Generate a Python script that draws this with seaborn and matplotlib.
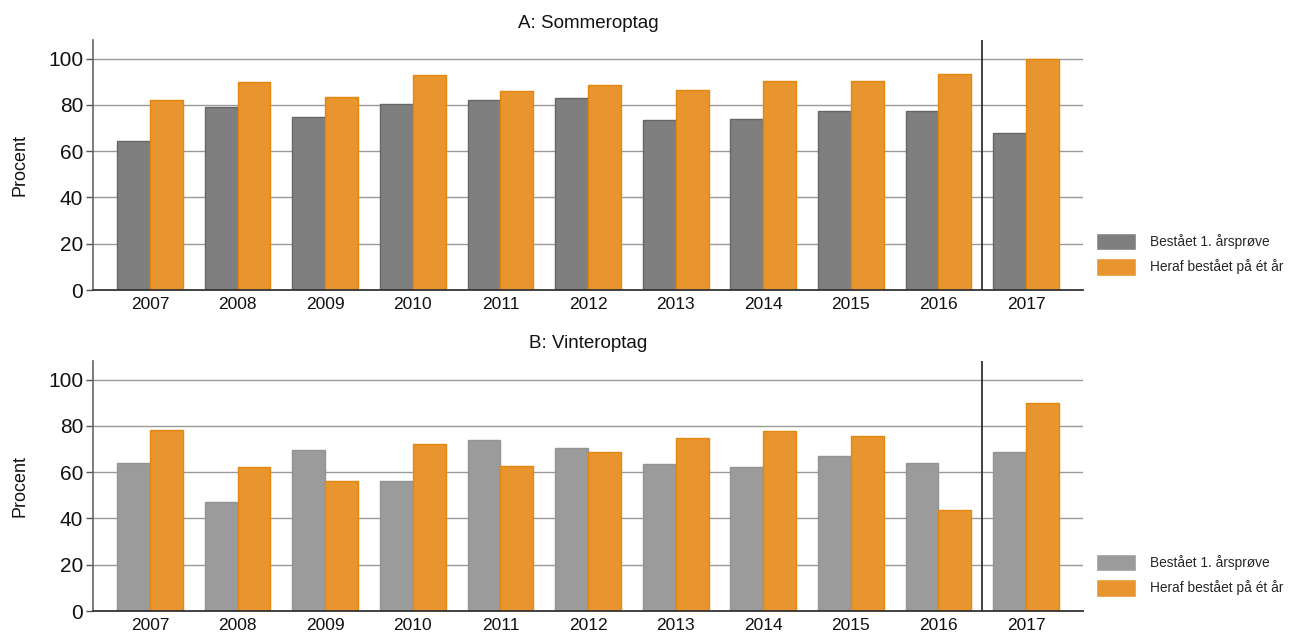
import matplotlib
matplotlib.use("Agg")
import matplotlib.pyplot as plt
import seaborn as sns
import pandas as pd

# Data
years = ["2007", "2008", "2009", "2010", "2011", "2012", "2013", "2014", "2015", "2016", "2017"]
series_names = ["Bestået 1. årsprøve", "Heraf bestået på ét år"]

summer_passed = [64.4, 78.9, 74.9, 80.2, 81.9, 82.9, 73.3, 73.7, 77.2, 77.3, 67.7]
summer_one_year = [82.3, 89.7, 83.2, 92.8, 85.9, 88.5, 86.6, 90.5, 90.1, 93.2, 100.0]

winter_passed = [63.9, 47.3, 69.7, 56.2, 73.9, 70.4, 63.5, 62.4, 67.1, 63.9, 68.8]
winter_one_year = [78.2, 62.2, 56.2, 72.1, 62.6, 68.8, 74.7, 77.7, 75.6, 43.7, 89.8]

panel_titles = ["A: Sommeroptag", "B: Vinteroptag"]
y_ticks = [0, 20, 40, 60, 80, 100]


def long_frame(first, second):
    return pd.DataFrame({
        "year": years * 2,
        "series": [series_names[0]] * len(years) + [series_names[1]] * len(years),
        "value": list(first) + list(second),
    })


sns.set_theme(style="white")
plt.rcParams["font.family"] = ["Liberation Sans", "DejaVu Sans"]

fig = plt.figure(figsize=(12.89, 6.32), dpi=100)
ax_top = fig.add_axes([0.0722, 0.5411, 0.768, 0.3956])
ax_bot = fig.add_axes([0.0722, 0.0332, 0.768, 0.3956])

orange = "#E8952F"
orange_edge = "#E4870E"
panels = [
    (ax_top, summer_passed, summer_one_year, "#7F7F7F", "#666666"),
    (ax_bot, winter_passed, winter_one_year, "#9B9B9B", "#939393"),
]

for i, (ax, first, second, gray, gray_edge) in enumerate(panels):
    df = long_frame(first, second)
    ax.set_axisbelow(True)
    for y in y_ticks[1:]:
        ax.axhline(y, color="#9A9A9A", lw=1.0, zorder=0)
    sns.barplot(data=df, x="year", y="value", hue="series",
                palette=[gray, orange], width=0.75, saturation=1,
                ax=ax, zorder=2)
    edges = [gray_edge, orange_edge]
    for k, cont in enumerate(ax.containers):
        for bar in cont:
            bar.set_edgecolor(edges[k])
            bar.set_linewidth(1.0)
    ax.axvline(9.5, color="#333333", lw=1.3, zorder=3)
    ax.set_xlim(-0.65, 10.65)
    ax.set_ylim(0, 108)
    ax.set_yticks(y_ticks)
    ax.tick_params(axis="y", labelsize=15, length=5, width=1, color="#555555",
                   pad=2, left=True, labelcolor="#111111")
    ax.tick_params(axis="x", labelsize=12.5, length=0, pad=5, labelcolor="#111111")
    ax.set_xlabel("")
    ax.set_ylabel("Procent", fontsize=13, labelpad=14, color="#111111")
    ax.set_title(panel_titles[i], fontsize=13.5, pad=9, color="#111111")
    for side in ["top", "right"]:
        ax.spines[side].set_visible(False)
    ax.spines["left"].set_color("#666666")
    ax.spines["left"].set_linewidth(1.2)
    ax.spines["bottom"].set_color("#333333")
    ax.spines["bottom"].set_linewidth(1.3)
    ax.legend(loc="lower left", bbox_to_anchor=(1.013, 0.058), frameon=False,
              fontsize=9.9, handlelength=2.95, handleheight=1.55,
              handletextpad=0.95, labelspacing=0.6, borderpad=0,
              borderaxespad=0, title=None)

fig.savefig("out.png", dpi=100)
